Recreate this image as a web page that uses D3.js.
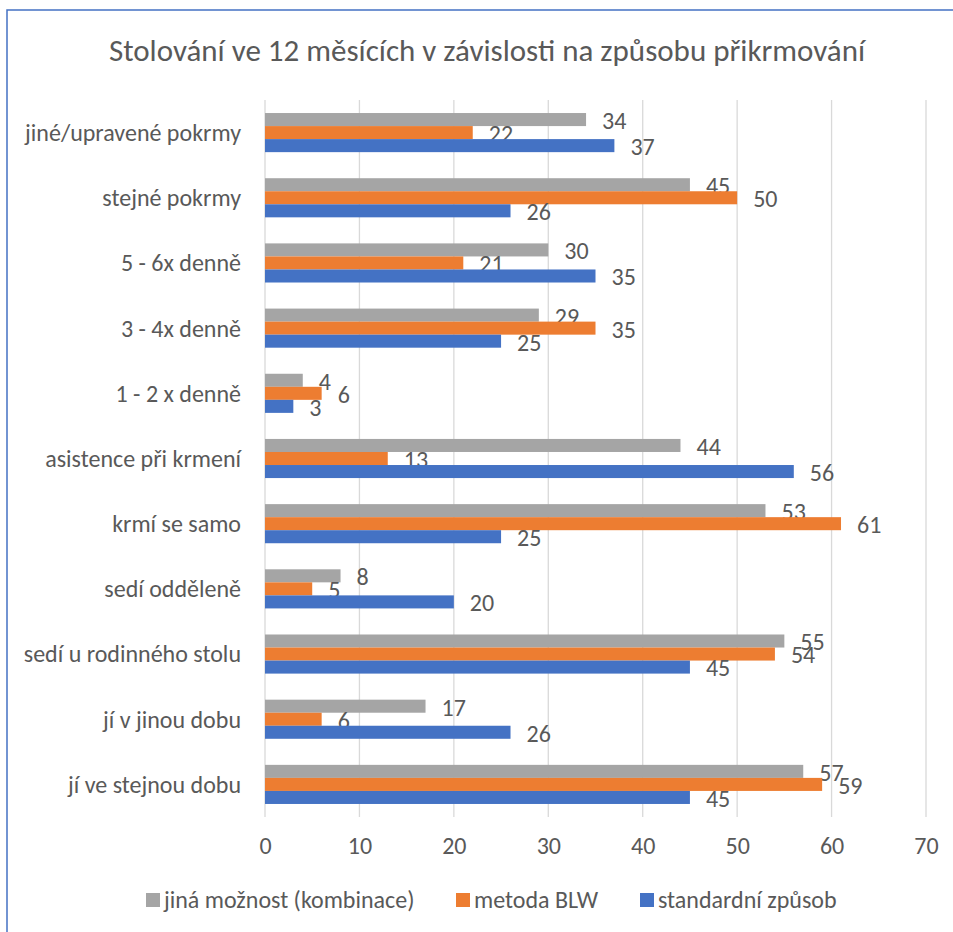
<!DOCTYPE html>
<html>
<head>
<meta charset="utf-8">
<script src="https://cdn.jsdelivr.net/npm/d3@7"></script>
<style>
  body { margin: 0; background: #fff; }
  #chart { width: 953px; height: 932px; }
  svg text { font-family: Carlito, Calibri, "Open Sans", sans-serif; fill: #595959; }
</style>
</head>
<body>
<div id="chart"></div>
<script>
/* DATA */
const categories = [
    "jiné/upravené pokrmy",
    "stejné pokrmy",
    "5 - 6x denně",
    "3 - 4x denně",
    "1 - 2 x denně",
    "asistence při krmení",
    "krmí se samo",
    "sedí odděleně",
    "sedí u rodinného stolu",
    "jí v jinou dobu",
    "jí ve stejnou dobu"
];
const seriesNames = ["jiná možnost (kombinace)", "metoda BLW", "standardní způsob"];
const jinaMoznost = [34, 45, 30, 29, 4, 44, 53, 8, 55, 17, 57];
const metodaBLW   = [22, 50, 21, 35, 6, 13, 61, 5, 54, 6, 59];
const standardni  = [37, 26, 35, 25, 3, 56, 25, 20, 45, 26, 45];
const xTicks = [0, 10, 20, 30, 40, 50, 60, 70];
const colors = ["#A5A5A5", "#ED7D31", "#4472C4"];

/* CANVAS */
const width = 953;
const height = 932;
const margin = {top: 100, left: 265, right: 27, bottom: 115};

const svg = d3.select("#chart")
    .append("svg")
    .attr("width", width)
    .attr("height", height);

// frame
svg.append("path")
    .attr("d", `M7,${height} V10 H${width}`)
    .attr("fill", "none")
    .attr("stroke", "#4472C4")
    .attr("stroke-width", 1.5);

/* SCALES */
const xScale = d3.scaleLinear()
    .domain([0, 70])
    .range([margin.left, width - margin.right]);

const yScale = d3.scaleBand()
    .domain(categories)
    .range([margin.top, height - margin.bottom])
    .paddingInner(0.4)
    .paddingOuter(0.2);

const inner = d3.scaleBand()
    .domain(seriesNames)
    .range([0, yScale.bandwidth()]);

/* GRIDLINES */
svg.append("g")
    .selectAll("line")
    .data(xTicks)
    .enter()
    .append("line")
        .attr("x1", d => xScale(d))
        .attr("x2", d => xScale(d))
        .attr("y1", margin.top)
        .attr("y2", height - margin.bottom)
        .attr("stroke", "#D9D9D9")
        .attr("stroke-width", 1.3);

/* X AXIS */
const xAxis = svg.append("g")
    .attr("transform", `translate(0,${height - margin.bottom})`)
    .call(d3.axisBottom(xScale).tickValues(xTicks).tickSize(0).tickPadding(20));
xAxis.select(".domain").remove();
xAxis.selectAll("text")
    .attr("font-size", 24)
    .attr("font-family", "Carlito, Calibri, 'Open Sans', sans-serif")
    .attr("fill", "#595959");

/* CATEGORY LABELS */
svg.append("g")
    .selectAll("text")
    .data(categories)
    .enter()
    .append("text")
        .attr("x", 241)
        .attr("y", d => yScale(d) + yScale.bandwidth() / 2)
        .attr("dy", "0.35em")
        .attr("text-anchor", "end")
        .attr("font-size", 24)
        .text(d => d);

/* BARS */
const series = [jinaMoznost, metodaBLW, standardni];
series.forEach(function(values, i) {
    const rows = categories.map((c, j) => ({cat: c, value: values[j]}));
    const g = svg.append("g");

    g.selectAll("rect")
        .data(rows)
        .enter()
        .append("rect")
            .attr("x", xScale(0))
            .attr("y", d => yScale(d.cat) + inner(seriesNames[i]))
            .attr("width", d => xScale(d.value) - xScale(0))
            .attr("height", inner.bandwidth())
            .attr("fill", colors[i]);

    g.selectAll("text")
        .data(rows)
        .enter()
        .append("text")
            .attr("x", d => xScale(d.value) + 16)
            .attr("y", d => yScale(d.cat) + inner(seriesNames[i]) + inner.bandwidth() / 2 + 1)
            .attr("dy", "0.35em")
            .attr("font-size", 24)
            .attr("fill", "#404040")
            .text(d => d.value);
});

/* TITLE */
svg.append("text")
    .attr("x", 487)
    .attr("y", 50)
    .attr("dy", "0.35em")
    .attr("text-anchor", "middle")
    .attr("font-size", 31)
    .text("Stolování ve 12 měsících v závislosti na způsobu přikrmování");

/* LEGEND */
const legendX = [146, 456, 640];
const legend = svg.append("g")
    .selectAll("g")
    .data(seriesNames)
    .enter()
    .append("g")
        .attr("transform", (d, i) => `translate(${legendX[i]},900)`);

legend.append("rect")
    .attr("x", 0)
    .attr("y", -7)
    .attr("width", 14)
    .attr("height", 14)
    .attr("fill", (d, i) => colors[i]);

legend.append("text")
    .attr("x", 18)
    .attr("y", 0)
    .attr("dy", "0.35em")
    .attr("font-size", 24)
    .text(d => d);
</script>
</body>
</html>
